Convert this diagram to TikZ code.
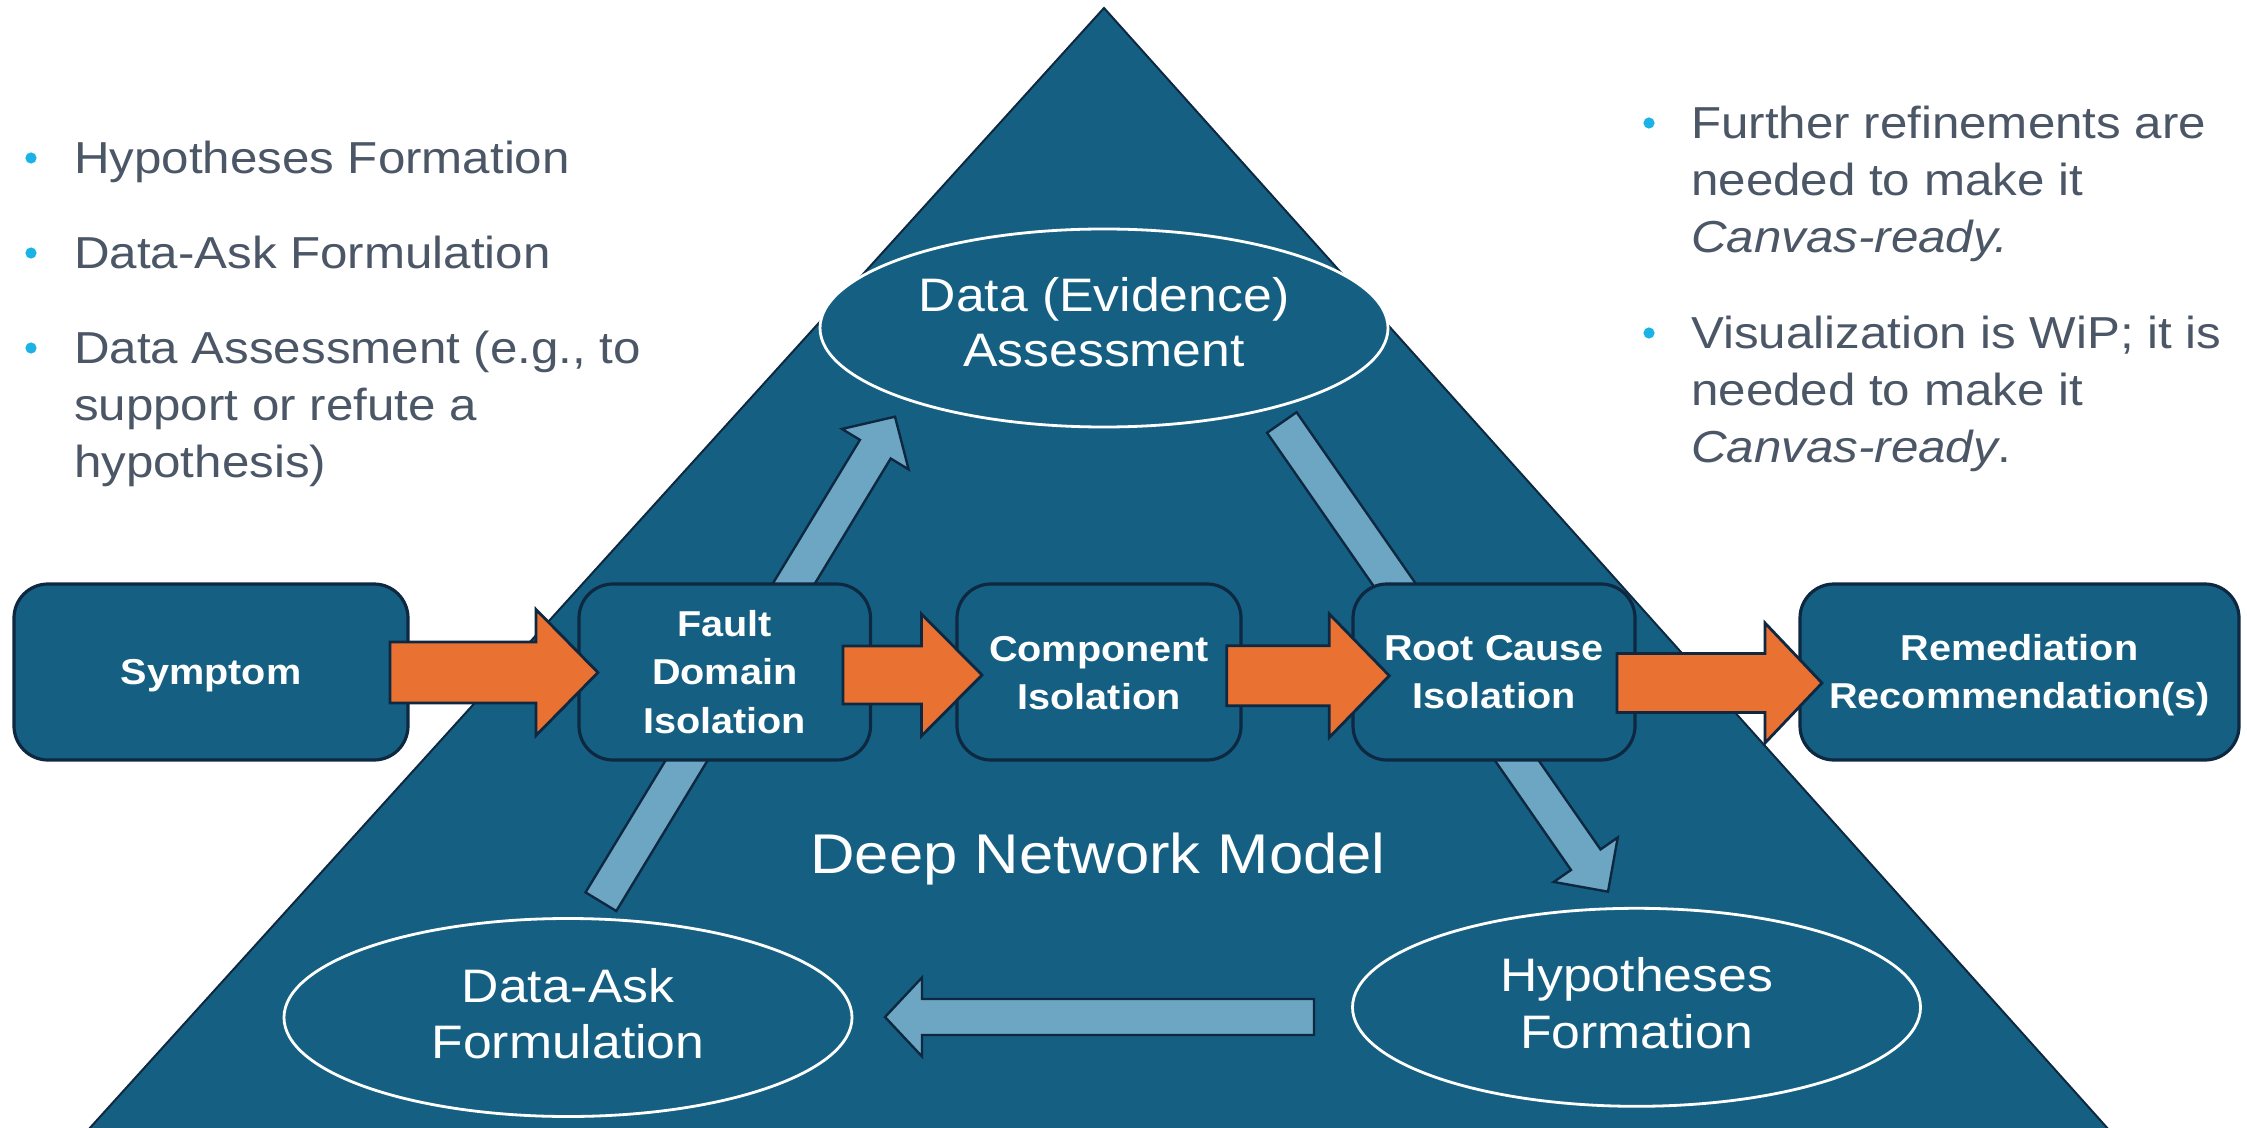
\documentclass[tikz,border=0pt]{standalone}
\usepackage{fontspec}
\setmainfont[FakeStretch=1.1]{Liberation Sans}
\usetikzlibrary{calc,shapes.geometric}
\definecolor{dnmblue}{HTML}{156082}
\definecolor{edgeline}{HTML}{0E2841}
\definecolor{arrorange}{HTML}{E97132}
\definecolor{arrlight}{HTML}{6CA6C3}
\definecolor{txtgray}{HTML}{4B5766}
\definecolor{bulcyan}{HTML}{1BB3E6}
% block arrow: #1 tail, #2 tip, #3 half shaft, #4 half head, #5 head length, #6 style
\newcommand{\blkarrow}[6]{%
  \coordinate (hb) at ($(#2)!#5!(#1)$);
  \draw[#6] ($(#1)!#3!90:(#2)$) -- ($(hb)!#3!-90:(#1)$) -- ($(hb)!#4!-90:(#1)$) -- (#2)
    -- ($(hb)!#4!90:(#1)$) -- ($(hb)!#3!90:(#1)$) -- ($(#1)!#3!-90:(#2)$) -- cycle;
}
\begin{document}
\begin{tikzpicture}[x=0.5pt,y=-0.5pt,
  graytxt/.style={anchor=base west, inner sep=0, text=txtgray, font=\fontsize{22.4pt}{27pt}\selectfont},
  bul/.style={circle, fill=bulcyan, inner sep=0, minimum size=5.6pt},
  box/.style={draw=edgeline, line width=1.6pt, fill=dnmblue, rounded corners=17pt, minimum height=88pt, inner sep=0},
  boxtxt/.style={anchor=base, inner sep=0, text=white, font=\bfseries\fontsize{18pt}{22pt}\selectfont},
  ell/.style={ellipse, draw=white, line width=1.4pt, fill=dnmblue, minimum width=284pt, minimum height=99pt, inner sep=0},
  elltxt/.style={anchor=base, inner sep=0, text=white, font=\fontsize{23.5pt}{28pt}\selectfont},
  orangearrow/.style={fill=arrorange, draw=edgeline, line width=1.4pt, line join=miter},
  lightarrow/.style={fill=arrlight, draw=edgeline, line width=1.2pt, line join=miter},
  modeltxt/.style={anchor=base, inner sep=0, text=white, font=\fontsize{28pt}{32pt}\selectfont}
]
\useasboundingbox (0,0) rectangle (2247,1128);
\fill[white] (0,0) rectangle (2247,1128);
\clip (0,0) rectangle (2247,1128);

% pyramid
\draw[fill=dnmblue, draw=edgeline, line width=1pt] (1104,8) -- (79,1140) -- (2118,1140) -- cycle;

% light cycle arrows
\coordinate (la1s) at (600.9,901.7);
\coordinate (la1e) at (895,416.7);
\blkarrow{la1s}{la1e}{9pt}{19.5pt}{19pt}{lightarrow}
\coordinate (la2s) at (1281.8,422.5);
\coordinate (la2e) at (1608,891.7);
\blkarrow{la2s}{la2e}{9pt}{19.5pt}{19.5pt}{lightarrow}
\coordinate (la3s) at (1314,1017);
\coordinate (la3e) at (885,1017);
\blkarrow{la3s}{la3e}{9pt}{19.75pt}{18.5pt}{lightarrow}

% ellipses
\node[ell] (dea) at (1104,328) {};
\node[ell] (daf) at (568,1017.5) {};
\node[ell] (hyf) at (1636.5,1007.3) {};
\node[elltxt] (dea1) at (1104,311.7) {Data (Evidence)};
\node[elltxt] (dea2) at (1104,366.7) {Assessment};
\node[elltxt] (daf1) at (568,1002.7) {Data-Ask};
\node[elltxt] (daf2) at (568,1058.3) {Formulation};
\node[elltxt] (hyf1) at (1636.5,991.7) {Hypotheses};
\node[elltxt] (hyf2) at (1636.5,1048.3) {Formation};

\node[modeltxt] (dnm) at (1098,873.3) {Deep Network Model};

% process boxes
\node[box, minimum width=197pt] (sym) at (211,672) {};
\node[box, minimum width=145.75pt] (fdi) at (724.75,672) {};
\node[box, minimum width=142pt] (cis) at (1099,672) {};
\node[box, minimum width=141pt] (rci) at (1494,672) {};
\node[box, minimum width=219.5pt] (rem) at (2019.5,672) {};

\node[boxtxt] (sym1) at (211,684) {Symptom};
\node[boxtxt] (fdi1) at (724.75,636) {Fault};
\node[boxtxt] (fdi2) at (724.75,684.5) {Domain};
\node[boxtxt] (fdi3) at (724.75,733.5) {Isolation};
\node[boxtxt] (cis1) at (1099,661) {Component};
\node[boxtxt] (cis2) at (1099,709.5) {Isolation};
\node[boxtxt] (rci1) at (1494,660) {Root Cause};
\node[boxtxt] (rci2) at (1494,708) {Isolation};
\node[boxtxt] (rem1) at (2019.5,660) {Remediation};
\node[boxtxt] (rem2) at (2019.5,708) {Recommendation(s)};

% orange flow arrows
\coordinate (oa1s) at (390,672.5);
\coordinate (oa1e) at (598,672.5);
\blkarrow{oa1s}{oa1e}{15.25pt}{31.5pt}{31pt}{orangearrow}
\coordinate (oa2s) at (843,675);
\coordinate (oa2e) at (982,675);
\blkarrow{oa2s}{oa2e}{14.5pt}{30.5pt}{30.25pt}{orangearrow}
\coordinate (oa3s) at (1226.7,675.7);
\coordinate (oa3e) at (1389.3,675.7);
\blkarrow{oa3s}{oa3e}{15pt}{30.85pt}{30pt}{orangearrow}
\coordinate (oa4s) at (1617,683);
\coordinate (oa4e) at (1822,683);
\blkarrow{oa4s}{oa4e}{14.75pt}{30pt}{28.5pt}{orangearrow}

% left bullets
\node[bul] (lb1) at (31,158) {};
\node[bul] (lb2) at (31,253) {};
\node[bul] (lb3) at (31,348) {};
\node[graytxt] (lt1) at (73.7,173.3) {Hypotheses Formation};
\node[graytxt] (lt2) at (73.7,268.3) {Data-Ask Formulation};
\node[graytxt] (lt3) at (73.7,363.3) {Data Assessment (e.g., to};
\node[graytxt] (lt4) at (73.7,420.3) {support or refute a};
\node[graytxt] (lt5) at (73.7,477.5) {hypothesis)};

% right bullets
\node[bul] (rb1) at (1649,123) {};
\node[bul] (rb2) at (1649,333) {};
\node[graytxt] (rt1) at (1690.8,138.3) {Further refinements are};
\node[graytxt] (rt2) at (1690.8,195.5) {needed to make it};
\node[graytxt] (rt3) at (1690.8,252.7) {\textit{Canvas-ready.}};
\node[graytxt] (rt4) at (1690.8,348.3) {Visualization is WiP; it is};
\node[graytxt] (rt5) at (1690.8,405.3) {needed to make it};
\node[graytxt] (rt6) at (1690.8,462.5) {\textit{Canvas-ready}.};
\end{tikzpicture}
\end{document}
